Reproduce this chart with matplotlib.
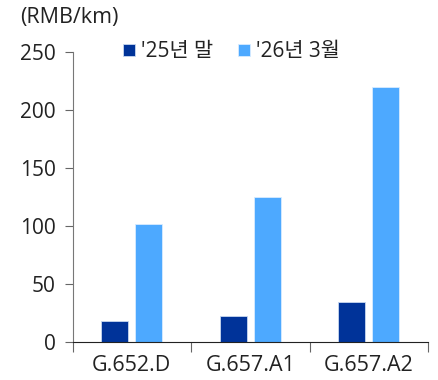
import numpy as np
import matplotlib.pyplot as plt
import matplotlib.ticker as mticker

plt.rcParams['font.family'] = ['Open Sans', 'Noto Sans CJK KR', 'DejaVu Sans']

# Fiber price by type, end of 2025 vs March 2026
categories = ["G.652.D", "G.657.A1", "G.657.A2"]
price_end25 = [18, 23, 35]
price_mar26 = [102, 125, 220]
series_labels = ["'25년 말", "'26년 3월"]
colors = ["#003399", "#4DA9FF"]

fig = plt.figure(figsize=(4.38, 3.8), dpi=100)
ax = fig.add_axes([72.5 / 438, 1 - 342.3 / 380, (428 - 72.5) / 438, (342.3 - 51.7) / 380])

x = np.arange(len(categories))
width = 0.228
offset = (width + 0.06) / 2
ax.bar(x - offset, price_end25, width, color=colors[0], edgecolor="#c8d8f0", linewidth=0.6, label=series_labels[0])
ax.bar(x + offset, price_mar26, width, color=colors[1], edgecolor="#d8ecff", linewidth=0.6, label=series_labels[1])

ax.set_xlim(-0.5, len(categories) - 0.5)
ax.set_ylim(0, 250)
ax.yaxis.set_major_locator(mticker.MultipleLocator(50))

# category labels sit between the boundary ticks
ax.set_xticks(np.arange(len(categories) + 1) - 0.5)
ax.set_xticklabels([])
ax.set_xticks(x, minor=True)
ax.set_xticklabels(categories, minor=True)
ax.tick_params(axis="x", which="minor", length=0, pad=9, labelsize=15.5, colors="#222222")
ax.tick_params(axis="x", which="major", length=7, color="#666666")
ax.tick_params(axis="y", length=6, color="#666666", labelsize=15, labelcolor="#222222", pad=6)

for side in ["top", "right"]:
    ax.spines[side].set_visible(False)
ax.spines["left"].set_color("#777777")
ax.spines["bottom"].set_color("#222222")

fig.text(20 / 438, 1 - 18 / 380, "(RMB/km)", fontsize=15.5, color="#222222", va="center")

ax.legend(loc="upper left", bbox_to_anchor=(0.09, 1.1), ncol=2, frameon=False,
          fontsize=15, handlelength=0.55, handleheight=0.55, handletextpad=0.3,
          columnspacing=1.2, labelcolor="#222222")

fig.savefig("out.png", dpi=100)
